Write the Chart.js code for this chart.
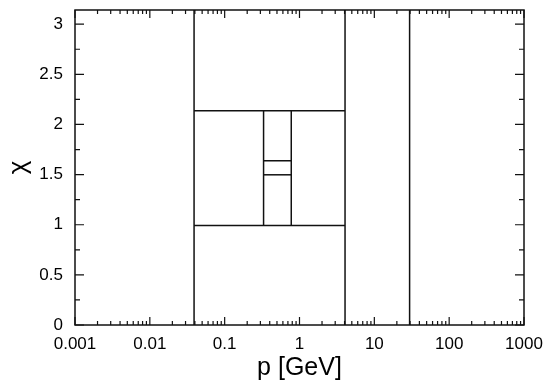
<!DOCTYPE html>
<html>
<head>
<meta charset="utf-8">
<script src="https://cdn.jsdelivr.net/npm/chart.js@4"></script>
<style>
  html, body { margin: 0; padding: 0; background: #fff; }
  #wrap { width: 545px; height: 383px; }
</style>
</head>
<body>
<div id="wrap"><canvas id="bounds"></canvas></div>
<script>
// region boundaries
const fullVerticals = [0.039, 4.06, 29.6];   // p where a line spans the whole chi range
const outerP = [0.039, 4.06];                 // p range of the outer box
const outerChi = [0.993, 2.136];              // chi lines of the outer box
const innerP = [0.331, 0.776];                // p of the inner box sides
const innerChi = [1.498, 1.638];              // chi lines of the inner box
const chiMax = Math.PI;

// tick labels
const xMajorTicks = [0.001, 0.01, 0.1, 1, 10, 100, 1000];
const yMajorTicks = [0, 0.5, 1, 1.5, 2, 2.5, 3];
const yMinorTicks = [0.25, 0.75, 1.25, 1.75, 2.25, 2.75];

// minor ticks 2..9 in every decade
const xMinorTicks = [];
xMajorTicks.slice(0, -1).forEach((d) => {
  for (let k = 2; k <= 9; k++) xMinorTicks.push(k * d);
});

function segment(x0, y0, x1, y1) {
  return {
    data: [{x: x0, y: y0}, {x: x1, y: y1}],
    showLine: true,
    borderColor: '#111',
    borderWidth: 1.5,
    pointRadius: 0,
    fill: false
  };
}

const datasets = [];
fullVerticals.forEach((p) => datasets.push(segment(p, 0, p, chiMax)));
outerChi.forEach((c) => datasets.push(segment(outerP[0], c, outerP[1], c)));
innerP.forEach((p) => datasets.push(segment(p, outerChi[0], p, outerChi[1])));
innerChi.forEach((c) => datasets.push(segment(innerP[0], c, innerP[1], c)));

// frame and inward ticks on all four sides
const frameTicks = {
  id: 'frameTicks',
  afterDatasetsDraw(chart) {
    const {ctx, chartArea: a, scales: {x, y}} = chart;
    ctx.save();
    ctx.strokeStyle = '#111';
    ctx.lineWidth = 1.5;
    ctx.strokeRect(a.left, a.top, a.right - a.left, a.bottom - a.top);
    ctx.lineWidth = 1.2;
    ctx.beginPath();
    const xt = (v, len) => {
      const px = x.getPixelForValue(v);
      ctx.moveTo(px, a.bottom); ctx.lineTo(px, a.bottom - len);
      ctx.moveTo(px, a.top); ctx.lineTo(px, a.top + len);
    };
    const yt = (v, len) => {
      const py = y.getPixelForValue(v);
      ctx.moveTo(a.left, py); ctx.lineTo(a.left + len, py);
      ctx.moveTo(a.right, py); ctx.lineTo(a.right - len, py);
    };
    xMajorTicks.forEach((v) => xt(v, 8));
    xMinorTicks.forEach((v) => xt(v, 4));
    yMajorTicks.forEach((v) => yt(v, 9));
    yMinorTicks.forEach((v) => yt(v, 5));
    ctx.stroke();
    ctx.restore();
  }
};

const fontFamily = '"Liberation Sans", Arial, Helvetica, sans-serif';

new Chart(document.getElementById('bounds'), {
  type: 'scatter',
  data: { datasets: datasets },
  options: {
    responsive: true,
    maintainAspectRatio: false,
    animation: false,
    layout: { padding: { top: 10, right: 0, left: 0, bottom: 0 } },
    plugins: {
      legend: { display: false },
      tooltip: { enabled: false }
    },
    scales: {
      x: {
        type: 'logarithmic',
        min: 0.001,
        max: 1000,
        afterBuildTicks: (scale) => {
          scale.ticks = xMajorTicks.map((v) => ({value: v}));
        },
        afterFit: (scale) => {
          scale.height = 58;
          scale.paddingLeft = 0;
          scale.paddingRight = 21;
        },
        grid: { display: false, drawTicks: false },
        border: { display: false },
        ticks: {
          color: '#000',
          padding: 9,
          maxRotation: 0,
          autoSkip: false,
          font: { family: fontFamily, size: 17 },
          callback: (v) => String(v)
        },
        title: {
          display: true,
          text: 'p [GeV]',
          color: '#000',
          font: { family: fontFamily, size: 25 },
          padding: { top: 0, bottom: 0 }
        }
      },
      y: {
        type: 'linear',
        min: 0,
        max: chiMax,
        afterBuildTicks: (scale) => {
          scale.ticks = yMajorTicks.map((v) => ({value: v}));
        },
        afterFit: (scale) => {
          scale.width = 75;
          scale.paddingTop = 0;
          scale.paddingBottom = 0;
        },
        grid: { display: false, drawTicks: false },
        border: { display: false },
        ticks: {
          color: '#000',
          padding: 12,
          font: { family: fontFamily, size: 17 },
          callback: (v) => String(v)
        },
        title: {
          display: true,
          text: 'χ',
          color: '#000',
          font: { family: fontFamily, size: 26 },
          padding: { top: 3, bottom: 0 }
        }
      }
    }
  },
  plugins: [frameTicks]
});
</script>
</body>
</html>
